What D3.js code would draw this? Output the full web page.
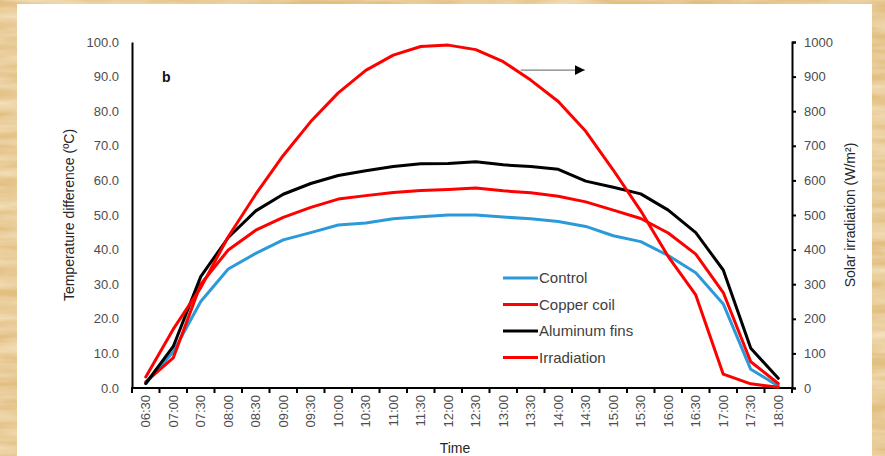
<!DOCTYPE html>
<html>
<head>
<meta charset="utf-8">
<script src="https://cdn.jsdelivr.net/npm/d3@7"></script>
<style>
  html, body { margin: 0; padding: 0; background: #e8c98e; }
  svg { display: block; }
  text { font-family: "Liberation Sans", Arial, sans-serif; }
</style>
</head>
<body>
<svg id="chart" width="885" height="456"></svg>
<script>
// Half-hourly readings, 06:30 to 18:00
const times = ["06:30","07:00","07:30","08:00","08:30","09:00","09:30","10:00","10:30","11:00","11:30","12:00",
               "12:30","13:00","13:30","14:00","14:30","15:00","15:30","16:00","16:30","17:00","17:30","18:00"];

// Temperature difference (°C)
const control      = [1.3, 10.5, 25.0, 34.4, 38.9, 42.8, 44.9, 47.1, 47.7, 48.9, 49.5, 50.0,
                      50.0, 49.4, 48.9, 48.1, 46.7, 44.0, 42.3, 38.3, 33.3, 24.3, 5.4, 0.6];
const copperCoil   = [1.8, 8.7, 30.0, 39.9, 45.6, 49.3, 52.2, 54.6, 55.6, 56.5, 57.1, 57.4,
                      57.8, 57.0, 56.4, 55.4, 53.8, 51.4, 49.0, 44.8, 38.7, 27.6, 7.6, 1.3];
const aluminumFins = [1.3, 12.0, 32.2, 43.5, 51.2, 56.0, 59.1, 61.4, 62.8, 64.0, 64.8, 64.9,
                      65.4, 64.5, 64.0, 63.2, 59.8, 58.0, 56.1, 51.4, 44.9, 34.1, 11.5, 2.8];

// Solar irradiation (W/m²)
const irradiation  = [32, 170, 290, 437, 560, 672, 770, 853, 918, 962, 987, 991,
                      978, 943, 890, 828, 742, 630, 512, 380, 269, 40, 12, 2];

const tempTicks = d3.range(0, 101, 10);
const irrTicks  = d3.range(0, 1001, 100);

const series = [
  { name: "Control",        values: control,      color: "#2c9ad8", axis: "left"  },
  { name: "Copper coil",    values: copperCoil,   color: "#fe0000", axis: "left"  },
  { name: "Aluminum fins",  values: aluminumFins, color: "#000000", axis: "left"  },
  { name: "Irradiation",    values: irradiation,  color: "#fe0000", axis: "right" }
];

const W = 885, H = 456;
const svg = d3.select("#chart");

// Parchment-like surround
const defs = svg.append("defs");
const paper = defs.append("filter").attr("id", "paper").attr("x", 0).attr("y", 0).attr("width", 1).attr("height", 1);
paper.append("feTurbulence").attr("type", "fractalNoise").attr("baseFrequency", "0.012 0.09")
  .attr("numOctaves", 3).attr("seed", 7).attr("result", "noise");
paper.append("feColorMatrix").attr("in", "noise").attr("type", "matrix")
  .attr("values", "0 0 0 0 0.98  0 0 0 0 0.88  0 0 0 0 0.66  0 0 0 1.1 -0.3")
  .attr("result", "tint");
paper.append("feComposite").attr("in", "tint").attr("in2", "SourceGraphic").attr("operator", "over");

svg.append("rect").attr("width", W).attr("height", H).attr("fill", "#e2bf80").attr("filter", "url(#paper)");

// White plot card
svg.append("rect").attr("x", 17).attr("y", 4).attr("width", 855).attr("height", H - 4).attr("fill", "#ffffff");

const plot = { left: 132, right: 792, top: 42, bottom: 388 };

const x = d3.scaleBand().domain(times).range([plot.left, plot.right]).paddingInner(0).paddingOuter(0);
const cx = t => x(t) + x.bandwidth() / 2;
const yL = d3.scaleLinear().domain([0, 100]).range([plot.bottom, plot.top]);
const yR = d3.scaleLinear().domain([0, 1000]).range([plot.bottom, plot.top]);

const tickColor = "#4d4d4d";
const tickFont = 13;

// Left axis
const gL = svg.append("g").attr("transform", `translate(${plot.left},0)`)
  .call(d3.axisLeft(yL).tickValues(tempTicks).tickFormat(d3.format(".1f")).tickSize(0).tickPadding(13));
gL.select(".domain").attr("stroke", "#000").attr("stroke-width", 2);
gL.selectAll("text").attr("font-size", tickFont).attr("fill", tickColor).attr("font-family", "Liberation Sans, Arial, sans-serif");

// Right axis
const gR = svg.append("g").attr("transform", `translate(${plot.right},0)`)
  .call(d3.axisRight(yR).tickValues(irrTicks).tickFormat(d3.format("d")).tickSizeInner(4).tickSizeOuter(4).tickPadding(8));
gR.select(".domain").attr("stroke", "#000").attr("stroke-width", 2);
gR.selectAll(".tick line").attr("stroke", "#000").attr("stroke-width", 2);
gR.selectAll("text").attr("font-size", tickFont).attr("fill", tickColor).attr("font-family", "Liberation Sans, Arial, sans-serif");

// Bottom axis: labels at category centres, tick marks at category boundaries
const gB = svg.append("g").attr("transform", `translate(0,${plot.bottom})`)
  .call(d3.axisBottom(x).tickSize(0).tickPadding(0));
gB.select(".domain").remove();
gB.selectAll("text")
  .attr("font-size", tickFont).attr("fill", tickColor).attr("font-family", "Liberation Sans, Arial, sans-serif")
  .attr("transform", "rotate(-90)")
  .attr("text-anchor", "end")
  .attr("dy", "0.35em")
  .attr("x", -7).attr("y", 0);

const bounds = times.map(t => x(t)).concat([x.range()[1]]);
gB.selectAll("line.bt").data(bounds).join("line").attr("class", "bt")
  .attr("x1", d => d).attr("x2", d => d).attr("y1", 0).attr("y2", 5)
  .attr("stroke", "#000").attr("stroke-width", 2);
gB.append("line").attr("x1", plot.left - 1).attr("x2", plot.right + 1).attr("y1", 0).attr("y2", 0)
  .attr("stroke", "#000").attr("stroke-width", 2);

// Axis titles
svg.append("text").attr("transform", `translate(74,${(plot.top + plot.bottom) / 2}) rotate(-90)`)
  .attr("text-anchor", "middle").attr("font-size", 14).attr("fill", "#262626")
  .text("Temperature difference (ºC)");
svg.append("text").attr("transform", `translate(855,${(plot.top + plot.bottom) / 2}) rotate(-90)`)
  .attr("text-anchor", "middle").attr("font-size", 14).attr("fill", "#262626")
  .text("Solar irradiation (W/m²)");
svg.append("text").attr("x", (plot.left + plot.right) / 2 - 7).attr("y", 453)
  .attr("text-anchor", "middle").attr("font-size", 14).attr("fill", "#262626").text("Time");

// Panel letter
svg.append("text").attr("x", 162).attr("y", 82).attr("font-size", 14).attr("font-weight", "bold")
  .attr("fill", "#111").text("b");

// Lines
series.forEach(s => {
  const ys = s.axis === "left" ? yL : yR;
  const line = d3.line().x((d, i) => cx(times[i])).y(d => ys(d));
  svg.append("path").datum(s.values).attr("d", line)
    .attr("fill", "none").attr("stroke", s.color).attr("stroke-width", 3)
    .attr("stroke-linejoin", "round").attr("stroke-linecap", "round");
});

// Arrow pointing the irradiation curve to the right-hand axis
const arrowY = yR(919);
const ax0 = cx("13:30") - 10, ax1 = cx("15:30") - 56;
defs.append("marker").attr("id", "head").attr("viewBox", "0 0 10 10").attr("refX", 10).attr("refY", 5)
  .attr("markerWidth", 10).attr("markerHeight", 10).attr("markerUnits", "userSpaceOnUse").attr("orient", "auto")
  .append("path").attr("d", "M0,0 L10,5 L0,10 Z").attr("fill", "#000");
svg.append("line").attr("x1", ax0).attr("x2", ax1).attr("y1", arrowY).attr("y2", arrowY)
  .attr("stroke", "#7f7f7f").attr("stroke-width", 1.2).attr("marker-end", "url(#head)");

// Legend
const leg = svg.append("g").attr("transform", "translate(503,278)");
series.forEach((s, i) => {
  const g = leg.append("g").attr("transform", `translate(0,${i * 26.5})`);
  g.append("line").attr("x1", 0).attr("x2", 35).attr("y1", 0).attr("y2", 0)
    .attr("stroke", s.color).attr("stroke-width", 3);
  g.append("text").attr("x", 36).attr("y", 0).attr("dy", "0.35em").attr("font-size", 15)
    .attr("fill", "#404040").text(s.name);
});
</script>
</body>
</html>
